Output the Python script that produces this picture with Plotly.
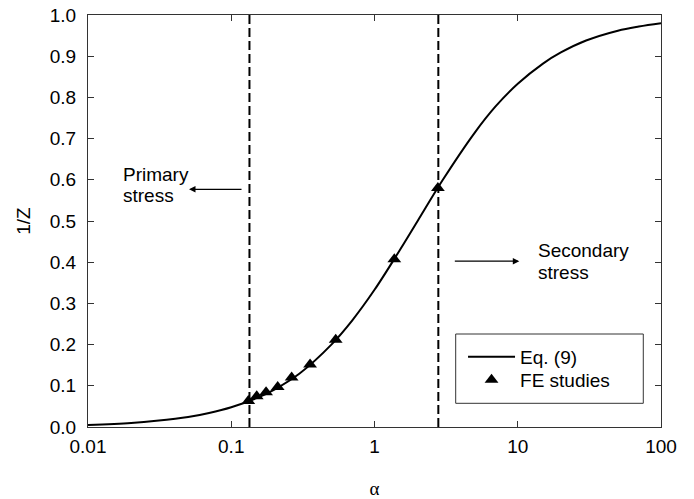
import math
import plotly.graph_objects as go

# Eq. (9) curve
curve_alpha = [0.01, 0.02, 0.03, 0.05, 0.07, 0.1, 0.15, 0.2, 0.3, 0.5, 0.7, 1, 1.5, 2, 3, 5, 7, 10, 15, 20, 30, 50, 70, 100]
curve_invz = [0.005, 0.010, 0.015, 0.024, 0.034, 0.048, 0.070, 0.091, 0.130, 0.200, 0.259, 0.333, 0.429, 0.500, 0.600, 0.714, 0.778, 0.833, 0.882, 0.909, 0.938, 0.962, 0.972, 0.980]

# FE studies points
fe_alpha = [0.1315, 0.1506, 0.175, 0.211, 0.264, 0.355, 0.536, 1.375, 2.77]
fe_invz = [0.063, 0.0746, 0.0843, 0.097, 0.120, 0.152, 0.212, 0.407, 0.580]

# dashed boundaries
boundary_alpha = [0.134, 2.79]

x_tickvals = [0.01, 0.1, 1, 10, 100]
x_ticktext = ["0.01", "0.1", "1", "10", "100"]
y_tickvals = [0.0, 0.1, 0.2, 0.3, 0.4, 0.5, 0.6, 0.7, 0.8, 0.9, 1.0]

FONT = "Liberation Sans, Arial, sans-serif"
FS = 19
AX = "#333333"

fig = go.Figure()
for b in boundary_alpha:
    fig.add_trace(go.Scatter(x=[b, b], y=[0, 1], mode="lines",
                             line=dict(color="black", width=2, dash="9px,4px"),
                             showlegend=False, hoverinfo="skip"))
fig.add_trace(go.Scatter(x=curve_alpha, y=curve_invz, mode="lines", name="Eq. (9)",
                         line=dict(color="black", width=2, shape="spline"), legend="legend"))
fig.add_trace(go.Scatter(x=fe_alpha, y=fe_invz, mode="markers", name="FE studies",
                         marker=dict(symbol="triangle-up", size=12, color="black"), legend="legend2"))

fig.add_shape(type="rect", xref="paper", yref="paper", x0=0.6417, x1=0.9691, y0=0.0575, y1=0.2257,
              line=dict(color=AX, width=1), fillcolor="rgba(0,0,0,0)")


def lx(v):
    return math.log10(v)


ann = []
ann.append(dict(x=lx(0.0507), y=0.577, ax=lx(0.1208), ay=0.577, xref="x", yref="y", axref="x", ayref="y",
                showarrow=True, arrowhead=2, arrowsize=1, arrowwidth=1.3, arrowcolor="black", text=""))
ann.append(dict(x=lx(10.25), y=0.4025, ax=lx(3.55), ay=0.4025, xref="x", yref="y", axref="x", ayref="y",
                showarrow=True, arrowhead=2, arrowsize=1, arrowwidth=1.3, arrowcolor="black", text=""))
for txt, xx, yy in [("Primary", 0.017, 0.614), ("stress", 0.017, 0.563),
                    ("Secondary", 13.4, 0.428), ("stress", 13.4, 0.376)]:
    ann.append(dict(x=lx(xx), y=yy, xref="x", yref="y", text=txt, showarrow=False,
                    xanchor="left", yanchor="middle", font=dict(family=FONT, size=FS, color="black")))
fig.update_layout(annotations=ann)

leg_common = dict(xanchor="left", yanchor="middle", bgcolor="rgba(0,0,0,0)", borderwidth=0,
                  font=dict(family=FONT, size=FS, color="black"), itemwidth=47)

fig.update_layout(
    width=694, height=499,
    margin=dict(l=88, r=33, t=15, b=72),
    paper_bgcolor="white", plot_bgcolor="white",
    font=dict(family=FONT, size=FS, color="black"),
    showlegend=True,
    legend=dict(x=0.6545, y=0.1699, **leg_common),
    legend2=dict(x=0.6545, y=0.1141, **leg_common),
    xaxis=dict(type="log", range=[-2, 2], tickvals=x_tickvals, ticktext=x_ticktext,
               ticks="inside", ticklen=6, tickcolor=AX, showline=True, linecolor=AX, linewidth=1,
               mirror="ticks", showgrid=False, zeroline=False, ticklabelstandoff=2, automargin=False,
               title=dict(text="α", font=dict(family="Liberation Serif, serif", size=FS), standoff=42)),
    yaxis=dict(range=[0, 1], tickvals=y_tickvals, tickformat=".1f",
               ticks="inside", ticklen=6, tickcolor=AX, showline=True, linecolor=AX, linewidth=1,
               mirror="ticks", showgrid=False, zeroline=False, ticklabelstandoff=7, automargin=False,
               title=dict(text="1/Z", font=dict(family=FONT, size=FS), standoff=14)),
)

fig.write_html("out.html")
